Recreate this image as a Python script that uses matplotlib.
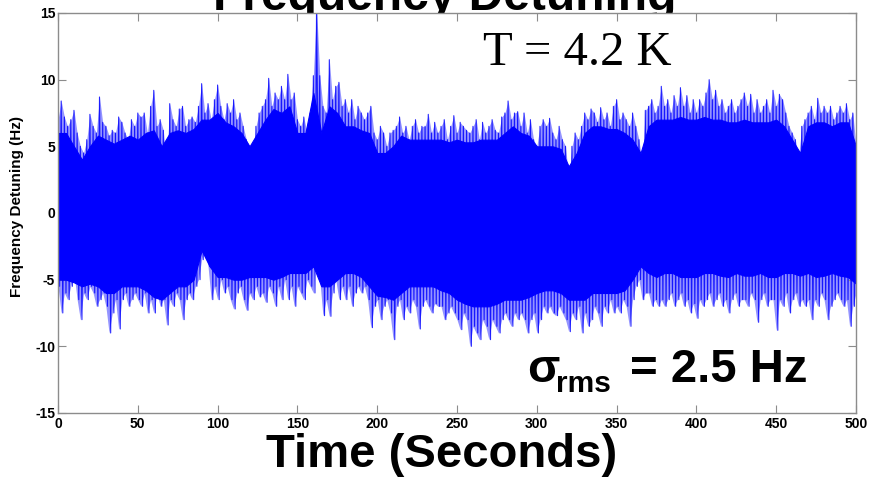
import numpy as np
import matplotlib
matplotlib.use("Agg")
import matplotlib.pyplot as plt

# ---------------- data ----------------
# peak (max / min) excursions read per 2-second bin
time_s = np.arange(0, 502, 2)

upper_hz = [
    7.0, 8.4, 7.2, 6.5, 7.0,   7.7, 6.0, 5.0, 4.5, 5.5,
    7.4, 6.5, 6.0, 8.7, 6.8,   6.5, 5.8, 6.2, 6.0, 7.2,
    6.8, 6.0, 5.5, 7.0, 6.5,   7.5, 7.2, 7.5, 6.0, 8.0,
    9.2, 6.5, 7.0, 6.2, 3.5,   8.2, 7.0, 6.5, 7.8, 8.0,
    6.5, 7.0, 7.2, 6.8, 8.0,   9.7, 7.5, 8.2, 7.0, 8.5,
    9.6, 8.0, 7.0, 8.2, 7.5,   8.5, 7.0, 7.5, 6.5, 5.5,
    5.0, 4.0, 6.5, 7.5, 8.0,   8.5, 10.1, 8.0, 9.0, 8.5,
    9.5, 8.5, 10.4, 8.5, 9.0,  7.0, 6.5, 7.2, 6.0, 7.5,
    10.3, 15.5, 10.3, 8.0, 7.5, 11.5, 8.5, 9.5, 9.8, 8.0,
    8.5, 7.5, 8.5, 7.0, 8.0,   7.5, 7.0, 7.5, 8.0, 6.0,
    5.5, 6.5, 6.0, 5.0, 6.0,   6.2, 6.5, 7.2, 6.0, 6.5,
    5.5, 6.5, 7.0, 6.0, 6.5,   6.5, 7.4, 6.0, 6.8, 6.0,
    6.5, 7.0, 5.5, 6.5, 7.3,   6.0, 6.8, 6.5, 6.2, 6.0,
    6.5, 7.0, 5.5, 6.8, 6.0,   6.5, 7.0, 6.2, 6.0, 7.2,
    7.5, 8.4, 7.0, 7.5, 7.6,   6.5, 7.5, 6.0, 7.0, 5.5,
    5.0, 6.5, 7.0, 6.5, 7.1,   6.0, 5.5, 6.5, 5.5, 5.0,
    2.5, 5.0, 6.0, 5.5, 6.5,   7.5, 7.0, 7.8, 7.5, 6.8,
    7.9, 7.0, 7.5, 6.5, 8.0,   8.5, 7.0, 7.5, 7.0, 6.5,
    7.5, 6.5, 5.5, 3.7, 7.7,   8.0, 8.5, 7.5, 8.0, 9.5,
    8.0, 8.5, 7.5, 8.8, 8.0,   9.4, 8.0, 8.8, 7.5, 8.5,
    7.5, 8.5, 8.0, 9.0, 10.0,  8.5, 9.2, 8.0, 8.5, 7.5,
    8.0, 8.5, 7.5, 8.0, 8.5,   9.0, 8.0, 8.9, 7.5, 8.5,
    7.5, 8.0, 8.5, 7.5, 9.2,   8.0, 8.9, 8.5, 7.5, 6.5,
    6.0, 5.5, 4.2, 6.5, 7.0,   7.5, 8.0, 7.0, 8.6, 7.5,
    8.0, 7.5, 8.0, 7.0, 7.5,   8.0, 7.5, 8.2, 7.0, 7.5,
    5.0,
]

lower_hz = [
    -5.5, -7.5, -6.0, -6.5, -5.5,   -4.5, -6.5, -8.0, -6.0, -6.5,
    -5.5, -6.0, -7.0, -6.5, -6.0,   -7.0, -9.0, -7.5, -6.5, -8.7,
    -6.5, -6.0, -7.0, -6.5, -6.0,   -6.5, -7.0, -6.0, -7.5, -6.5,
    -7.5, -6.0, -7.0, -6.5, -8.4,   -6.5, -7.0, -6.0, -6.5, -8.0,
    -6.5, -6.0, -6.5, -5.5, -5.0,   -3.5, -2.5, -4.0, -6.5, -5.5,
    -6.5, -5.0, -6.0, -5.5, -6.5,   -7.2, -6.0, -5.5, -6.5, -7.3,
    -6.0, -6.5, -5.5, -6.3, -6.0,   -6.7, -5.5, -6.0, -7.0, -5.5,
    -6.5, -5.0, -6.5, -5.5, -7.0,   -5.5, -6.0, -6.5, -5.0, -5.5,
    -6.0, 2.3, -5.0, -7.7, -6.5,    -7.75, -6.0, -5.0, -6.5, -5.5,
    -6.5, -5.5, -7.0, -6.0, -5.5,   -6.0, -5.5, -6.5, -8.6, -7.0,
    -6.5, -8.0, -7.0, -6.5, -7.5,   -9.5, -7.0, -6.5, -8.0, -7.0,
    -7.5, -6.5, -7.0, -8.7, -7.0,   -6.5, -7.0, -7.5, -6.8, -7.0,
    -7.0, -8.0, -7.5, -7.0, -7.5,   -8.0, -8.75, -7.5, -8.0, -10.0,
    -8.5, -9.0, -9.5, -8.0, -8.5,   -9.5, -8.0, -8.5, -9.0, -8.0,
    -7.5, -8.0, -8.5, -7.5, -8.0,   -7.5, -8.0, -9.0, -8.0, -7.5,
    -9.0, -8.0, -7.0, -7.5, -7.0,   -7.5, -7.7, -7.0, -7.5, -8.0,
    -8.9, -7.5, -8.0, -7.0, -9.0,   -7.5, -8.5, -8.0, -7.0, -7.5,
    -8.5, -7.0, -7.5, -6.5, -7.5,   -7.0, -7.5, -6.5, -7.0, -8.5,
    -6.5, -5.5, -5.0, -6.5, -6.0,   -6.0, -7.0, -6.5, -7.0, -6.5,
    -7.0, -6.5, -6.0, -7.0, -6.5,   -6.0, -7.0, -6.5, -7.5, -6.8,
    -7.9, -6.5, -7.0, -6.5, -6.0,   -7.0, -6.5, -6.0, -7.0, -6.5,
    -7.5, -6.5, -6.0, -7.0, -6.5,   -6.5, -7.0, -6.0, -6.5, -8.2,
    -6.5, -6.0, -7.0, -6.5, -6.5,   -8.8, -6.5, -7.0, -6.0, -7.5,
    -6.5, -6.0, -7.0, -6.5, -7.0,   -6.5, -8.0, -6.5, -7.0, -6.0,
    -6.5, -8.0, -7.0, -6.5, -6.0,   -6.5, -7.0, -6.5, -8.5, -7.0,
    -6.0,
]

# edges of the dense (solid) band, read every 5 seconds
core_time_s = np.arange(0, 505, 5)

core_upper_hz = [
    6.0, 6.0, 5.0, 4.0, 5.0, 5.8, 5.5, 5.2, 5.5, 5.8,
    5.5, 6.0, 6.2, 5.0, 6.0, 6.2, 6.0, 6.3, 7.0, 7.0,
    7.5, 6.8, 6.5, 6.0, 5.0, 6.0, 7.0, 7.8, 7.5, 8.0,
    6.0, 6.0, 9.0, 6.0, 8.0, 7.5, 6.5, 6.5, 6.2, 6.0,
    4.5, 4.5, 5.0, 5.8, 5.5, 5.5, 5.5, 5.5, 5.5, 5.3,
    5.5, 5.3, 5.3, 5.5, 5.5, 5.5, 6.0, 6.5, 6.0, 5.8,
    5.0, 5.0, 5.0, 4.8, 3.5, 4.5, 6.0, 6.5, 6.5, 6.3,
    6.3, 6.0, 5.5, 4.5, 6.5, 7.0, 7.0, 7.0, 7.2, 7.0,
    7.0, 7.2, 7.0, 7.0, 6.8, 6.8, 7.0, 6.8, 6.8, 6.8,
    7.0, 6.5, 5.5, 4.5, 6.5, 6.8, 6.8, 6.5, 6.8, 6.8,
    5.0,
]

core_lower_hz = [
    -5.0, -5.0, -5.2, -5.5, -5.3, -5.5, -6.0, -6.0, -5.5, -5.5,
    -5.5, -5.8, -6.3, -6.5, -6.0, -5.5, -5.5, -5.0, -2.8, -4.0,
    -4.8, -4.8, -5.0, -5.0, -4.8, -4.8, -4.8, -5.0, -4.8, -4.5,
    -4.5, -4.5, -4.0, -5.5, -5.5, -5.0, -4.5, -4.5, -4.8, -5.5,
    -6.2, -6.3, -6.5, -6.0, -5.5, -5.5, -5.5, -5.5, -5.8, -6.0,
    -6.5, -6.8, -7.0, -7.0, -7.0, -6.8, -6.5, -6.5, -6.5, -6.3,
    -6.0, -5.8, -5.8, -6.0, -6.5, -6.5, -6.5, -6.0, -6.0, -6.0,
    -6.0, -5.8, -5.0, -4.0, -4.5, -4.8, -4.5, -4.5, -4.8, -4.8,
    -4.8, -4.5, -4.5, -4.7, -4.8, -4.5, -4.7, -4.7, -4.5, -4.8,
    -4.8, -4.5, -4.5, -4.7, -4.5, -4.8, -4.7, -4.5, -4.7, -4.8,
    -5.3,
]

x_ticks = [0, 50, 100, 150, 200, 250, 300, 350, 400, 450, 500]
y_ticks = [-15, -10, -5, 0, 5, 10, 15]

# ---------------- figure ----------------
plt.rcParams['font.family'] = ['Liberation Sans', 'DejaVu Sans']
plt.rcParams['axes.unicode_minus'] = False
W, H = 875, 486
fig = plt.figure(figsize=(W / 100, H / 100), dpi=100)
ax = fig.add_axes([58 / W, 1 - 413 / H, (856 - 58) / W, (413 - 13) / H])
ax.set_facecolor('white')

blue = '#0000ff'
up = np.array(upper_hz)
lo = np.array(lower_hz)

# partially covered spike zone
ax.fill_between(time_s, lo, up, color=blue, alpha=0.42, linewidth=0,
                zorder=1)

# solid dense band
ax.fill_between(core_time_s, core_lower_hz, core_upper_hz, color=blue,
                linewidth=0.8, edgecolor=blue, zorder=2)

# spikes: zig-zag between each bin's max and min
zx = np.empty(2 * len(time_s))
zy = np.empty(2 * len(time_s))
zx[0::2] = time_s
zx[1::2] = time_s + 1.0
zy[0::2] = up
zy[1::2] = lo
ax.plot(zx, zy, color=blue, lw=0.8, alpha=0.85, zorder=3)

ax.set_xlim(0, 500)
ax.set_ylim(-15, 15)
ax.set_xticks(x_ticks)
ax.set_yticks(y_ticks)
grey = '#8c8c8c'
for s in ax.spines.values():
    s.set_color(grey)
    s.set_linewidth(1.0)
    s.set_zorder(5)
ax.tick_params(direction='in', length=5.8, width=0.8, color=grey,
               top=True, right=True, labelsize=10, pad=3)
ax.tick_params(axis='y', pad=2)
for lab in ax.get_xticklabels() + ax.get_yticklabels():
    lab.set_fontweight('bold')

ax.set_ylabel('Frequency Detuning (Hz)', fontsize=11, fontweight='bold')
ax.yaxis.set_label_coords(-34 / 798, 0.515)

# Title (partly hidden behind the axes, as in the source)
fig.text(445 / W, 1 - 10 / H, 'Frequency Detuning', fontsize=34.5,
         fontweight='bold', ha='center', va='baseline', zorder=-1)

fig.text(442 / W, 1 - 467 / H, 'Time (Seconds)', fontsize=34,
         fontweight='bold', ha='center', va='baseline')

fig.text(483 / W, 1 - 65 / H, 'T = 4.2 K', fontsize=35,
         family=['Liberation Serif', 'DejaVu Serif'], ha='left', va='baseline')

fig.text(527 / W, 1 - 382 / H, 'σ', fontsize=34, fontweight='bold',
         ha='left', va='baseline')
fig.text(556 / W, 1 - 392 / H, 'rms', fontsize=21.5, fontweight='bold',
         ha='left', va='baseline')
fig.text(630 / W, 1 - 382 / H, '= 2.5 Hz', fontsize=34, fontweight='bold',
         ha='left', va='baseline')

fig.savefig('out.png', dpi=100)
